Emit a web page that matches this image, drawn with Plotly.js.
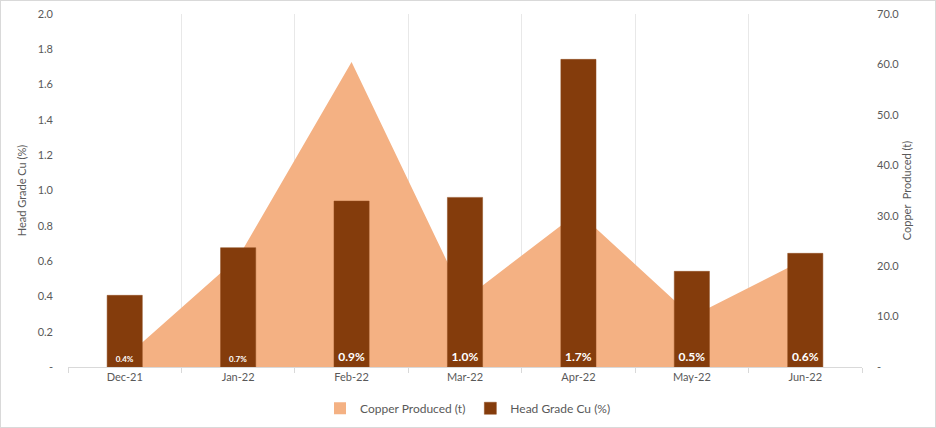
<!DOCTYPE html>
<html>
<head>
<meta charset="utf-8">
<script src="https://cdn.plot.ly/plotly-3.0.1.min.js"></script>
<style>
html,body{margin:0;padding:0;background:#fff;}
#chart{width:934px;height:426px;border:1px solid #d9d9d9;}
</style>
</head>
<body>
<div id="chart"></div>
<script>
var months = ['Dec-21','Jan-22','Feb-22','Mar-22','Apr-22','May-22','Jun-22'];
var copperProduced = [1.8, 21.7, 60.5, 13.5, 30.7, 10.0, 21.4];
var headGrade = [0.406, 0.676, 0.94, 0.961, 1.743, 0.542, 0.644];
var labelSizes = [8, 8, 12, 12, 12, 12, 12];
var leftTickVals = [0, 0.2, 0.4, 0.6, 0.8, 1.0, 1.2, 1.4, 1.6, 1.8, 2.0];
var leftTickText = ['-', '0.2', '0.4', '0.6', '0.8', '1.0', '1.2', '1.4', '1.6', '1.8', '2.0'];
var rightTickVals = [0, 10, 20, 30, 40, 50, 60, 70];
var rightTickText = ['-', '10.0', '20.0', '30.0', '40.0', '50.0', '60.0', '70.0'];

var FONT = 'Lato, "Noto Sans", sans-serif';
var GREY = '#595959';
var AREA_COLOR = '#F4B183';

var area = {
  type: 'scatter', x: months, y: copperProduced, name: 'Copper Produced (t)',
  mode: 'none', fill: 'tozeroy', fillcolor: AREA_COLOR, yaxis: 'y',
  hoverinfo: 'skip', showlegend: false
};
// legend-only entry for the area (square swatch, as in the reference)
var areaLegend = {
  type: 'bar', x: [months[0]], y: [null], name: 'Copper Produced (t)', yaxis: 'y',
  marker: {color: AREA_COLOR}, showlegend: true, hoverinfo: 'skip'
};
var bars = {
  type: 'bar', x: months, y: headGrade, name: 'Head Grade Cu (%)', yaxis: 'y2',
  width: 0.31,
  marker: {color: '#843C0C', line: {color: '#8f4a1c', width: 0.5}},
  text: headGrade.map(function(v){return v.toFixed(1) + '%';}),
  textposition: 'inside', insidetextanchor: 'start', textangle: 0,
  insidetextfont: {color: '#ffffff', family: FONT, size: labelSizes, weight: 'bold'},
  constraintext: 'none', cliponaxis: false
};

var layout = {
  width: 934, height: 426,
  margin: {l: 67, r: 73, t: 13, b: 60},
  paper_bgcolor: '#ffffff', plot_bgcolor: '#ffffff',
  font: {family: FONT, color: GREY, size: 11},
  showlegend: true,
  barmode: 'overlay',
  legend: {orientation: 'h', x: 0.5, xanchor: 'center', xref: 'container',
           y: 0.044, yanchor: 'middle', yref: 'container',
           font: {size: 12, color: GREY}, traceorder: 'normal', itemwidth: 30},
  xaxis: {
    type: 'category', tickson: 'boundaries', showgrid: true, gridcolor: '#e8e8e8', gridwidth: 1,
    showline: true, linecolor: '#d9d9d9', linewidth: 1,
    ticks: 'outside', ticklen: 5, tickcolor: '#d9d9d9',
    tickfont: {size: 11, color: GREY}, zeroline: false, fixedrange: true
  },
  yaxis: {
    side: 'right', range: [0, 70], tickvals: rightTickVals, ticktext: rightTickText,
    showgrid: false, zeroline: false, showline: false, ticks: '',
    ticklabelstandoff: 14,
    tickfont: {size: 11, color: GREY},
    title: {text: 'Copper  Produced (t)', font: {size: 11, color: GREY}, standoff: 4}
  },
  yaxis2: {
    overlaying: 'y', side: 'left', range: [0, 2], tickvals: leftTickVals, ticktext: leftTickText,
    showgrid: false, zeroline: false, showline: false, ticks: '',
    ticklabelstandoff: 14,
    tickfont: {size: 11, color: GREY},
    title: {text: 'Head Grade Cu (%)', font: {size: 11, color: GREY}, standoff: 8}
  }
};

Plotly.newPlot('chart', [area, areaLegend, bars], layout, {displayModeBar: false, staticPlot: true});
</script>
</body>
</html>
